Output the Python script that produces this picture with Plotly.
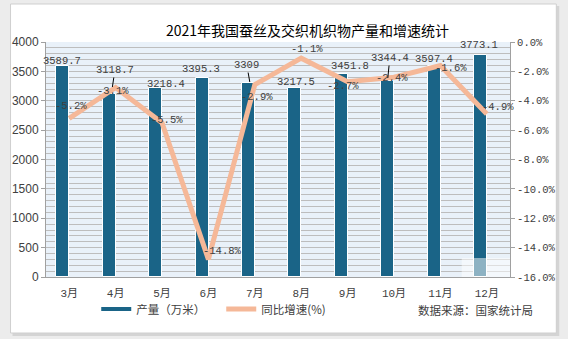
import plotly.graph_objects as go

# ---- data ----
months = ["3月", "4月", "5月", "6月", "7月", "8月", "9月", "10月", "11月", "12月"]
output_wm = [3589.7, 3118.7, 3218.4, 3395.3, 3309, 3217.5, 3451.8, 3344.4, 3597.4, 3773.1]
growth_pct = [-5.2, -3.1, -5.5, -14.8, -2.9, -1.1, -2.7, -2.4, -1.6, -4.9]
pct_tick_vals = [0, -2, -4, -6, -8, -10, -12, -14, -16]
pct_tick_text = ["0.0%", "-2.0%", "-4.0%", "-6.0%", "-8.0%", "-10.0%", "-12.0%", "-14.0%", "-16.0%"]

# ---- styling ----
W, H = 568, 339
L, R, T, B = 41, 56, 42, 62
BAR_COLOR = "#1a6487"
LINE_COLOR = "#f5b898"
TEXT_COLOR = "#404040"
MONO = "Liberation Mono, Noto Sans CJK SC"
CJK = "Noto Sans CJK SC"

# hand-placed label offsets in pixels (dx, dy-up) from each mark
bar_label_shift = [(-7.5, 5), (0, 24), (4.3, 4), (-7, 8.5), (-8, 17.6),
                   (-5, 6), (2, 8), (-4.3, 22.5), (-6.4, 6.7), (-7.5, 10.3)]
# leader lines: index -> (tip dx, tip dy-up, text ax, text ay)
bar_leaders = {1: (-3.2, 6.8, 2.5, -17), 4: (-5, 0.6, -3, -17), 7: (-6.2, 2.5, 2, -20)}
line_label_shift = [(1.5, 12.4), (-2.6, -3.5), (5, 2.8), (14, 8.4), (2, -12.4),
                    (6, 9.2), (-5, -4.3), (-2, -0.8), (10.6, -2.5), (11.5, 7)]

pw, ph = W - L - R, H - T - B


def px_x(x):
    return (x - L) / pw


def px_y(y):
    return (H - B - y) / ph


fig = go.Figure()

fig.add_trace(go.Bar(
    x=months, y=output_wm, name="产量（万米）",
    marker=dict(color=BAR_COLOR, line=dict(color="white", width=1)),
    width=0.28, offset=-0.275, showlegend=False,
))
# legend entry for the bars drawn as a thick line
fig.add_trace(go.Scatter(
    x=[None], y=[None], mode="lines", name="产量（万米）",
    line=dict(color=BAR_COLOR, width=4),
))
fig.add_trace(go.Scatter(
    x=months, y=growth_pct, name="同比增速(%)", yaxis="y2",
    mode="lines", line=dict(color=LINE_COLOR, width=5),
))

annotations = []
for i, (m, v) in enumerate(zip(months, output_wm)):
    dx, dy = bar_label_shift[i]
    if i in bar_leaders:
        tx, ty, ax, ay = bar_leaders[i]
        annotations.append(dict(
            x=m, y=v, xref="x", yref="y", text=f"{v:g}",
            xshift=tx, yshift=ty, showarrow=True, arrowhead=0,
            arrowwidth=1, arrowcolor="#000000", ax=ax, ay=ay, standoff=0,
            font=dict(family=MONO, size=10.5, color=TEXT_COLOR),
        ))
    else:
        annotations.append(dict(
            x=m, y=v, xref="x", yref="y", text=f"{v:g}",
            xshift=dx, yshift=dy, showarrow=False,
            font=dict(family=MONO, size=10.5, color=TEXT_COLOR),
        ))

for i, (m, p) in enumerate(zip(months, growth_pct)):
    dx, dy = line_label_shift[i]
    annotations.append(dict(
        x=m, y=p, xref="x", yref="y2", text=f"{p:.1f}%",
        xshift=dx, yshift=dy, showarrow=False,
        font=dict(family=MONO, size=10.5, color=TEXT_COLOR),
    ))

# title and source note
annotations.append(dict(
    x=px_x(306), y=px_y(30), xref="paper", yref="paper",
    text="2021年我国蚕丝及交织机织物产量和增速统计", showarrow=False,
    xanchor="center", yanchor="middle",
    font=dict(family=CJK, size=14, color="#000000"),
))
annotations.append(dict(
    x=px_x(417), y=px_y(310), xref="paper", yref="paper",
    text="数据来源：国家统计局", showarrow=False,
    xanchor="left", yanchor="middle",
    font=dict(family=CJK, size=11.5, color=TEXT_COLOR),
))

shapes = [
    # card shadow
    dict(type="rect", xref="paper", yref="paper", layer="below",
         x0=px_x(7), x1=px_x(562), y0=px_y(336), y1=px_y(6),
         fillcolor="#d4d4d4", line=dict(width=0)),
    # white card
    dict(type="rect", xref="paper", yref="paper", layer="below",
         x0=px_x(5), x1=px_x(559), y0=px_y(333), y1=px_y(4),
         fillcolor="#ffffff", line=dict(color="#cfcfcf", width=1)),
    # plot area fill
    dict(type="rect", xref="paper", yref="paper", layer="below",
         x0=0, x1=1, y0=0, y1=1,
         fillcolor="#e9f1f9", line=dict(width=0)),
    # faded patch in the lower right corner
    dict(type="rect", xref="paper", yref="paper", layer="above",
         x0=px_x(463), x1=1, y0=0, y1=px_y(258),
         fillcolor="rgba(255,255,255,0.5)", line=dict(width=0)),
]

fig.update_layout(
    width=W, height=H, autosize=False,
    margin=dict(l=L, r=R, t=T, b=B, pad=0),
    paper_bgcolor="#ececec", plot_bgcolor="#e9f1f9",
    bargap=0, annotations=annotations, shapes=shapes,
    legend=dict(
        orientation="h", x=px_x(92), y=px_y(309),
        xanchor="left", yanchor="middle",
        bgcolor="rgba(0,0,0,0)", borderwidth=0,
        font=dict(family=CJK, size=11.5, color=TEXT_COLOR),
        entrywidth=80, tracegroupgap=0,
    ),
    xaxis=dict(
        type="category", range=[-0.5, 9.5], showline=True,
        linecolor="#a0a0a0", linewidth=1, ticks="", showgrid=False,
        tickfont=dict(family=MONO, size=11, color=TEXT_COLOR),
        ticklabelstandoff=6,
    ),
    yaxis=dict(
        range=[0, 4000], dtick=500, showline=True, linecolor="#a0a0a0",
        ticks="outside", ticklen=4, tickcolor="#a0a0a0",
        showgrid=True, gridcolor="#bdbdbd", gridwidth=1, zeroline=False,
        minor=dict(dtick=100, showgrid=True, gridcolor="#bdbdbd", gridwidth=1),
        tickfont=dict(family="Liberation Sans", size=12, color=TEXT_COLOR),
    ),
    yaxis2=dict(
        overlaying="y", side="right", range=[-16, 0],
        tickvals=pct_tick_vals, ticktext=pct_tick_text,
        showgrid=False, zeroline=False, showline=True, linecolor="#a0a0a0",
        ticks="outside", ticklen=4, tickcolor="#a0a0a0",
        tickfont=dict(family=MONO, size=10.5, color=TEXT_COLOR),
    ),
)

fig.write_html("out.html")
